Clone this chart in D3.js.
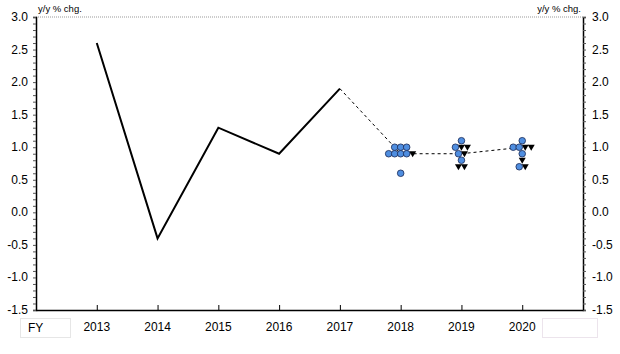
<!DOCTYPE html>
<html>
<head>
<meta charset="utf-8">
<script src="https://cdn.jsdelivr.net/npm/d3@7"></script>
<style>
  body { margin: 0; background: #fff; }
  text { font-family: Arial, "Liberation Sans", sans-serif; }
</style>
</head>
<body>
<div id="chart"></div>
<script>
let width = 620
let height = 354
let margin = { left: 36, right: 37, top: 17, bottom: 44 }

// actual FY growth
let actualYears = [2013, 2014, 2015, 2016, 2017]
let actualValues = [2.6, -0.4, 1.3, 0.9, 1.9]

// median forecast path (dashed)
let medianYears = [2017, 2018, 2019, 2020]
let medianValues = [1.9, 0.9, 0.9, 1.0]

// individual forecasts, circles and triangles
let circleYears = [2018, 2018, 2018, 2018, 2018, 2018, 2018, 2018,
  2019, 2019, 2019, 2019,
  2020, 2020, 2020, 2020, 2020]
let circleValues = [1.0, 1.0, 1.0, 0.9, 0.9, 0.9, 0.9, 0.6,
  1.1, 1.0, 0.9, 0.8,
  1.1, 1.0, 1.0, 0.9, 0.7]
let triYears = [2018, 2019, 2019, 2019, 2019, 2019, 2020, 2020, 2020, 2020]
let triValues = [0.9, 1.0, 1.0, 0.9, 0.7, 0.7, 1.0, 1.0, 0.8, 0.7]

let xTicks = [2013, 2014, 2015, 2016, 2017, 2018, 2019, 2020]
let yTicks = [-1.5, -1.0, -0.5, 0.0, 0.5, 1.0, 1.5, 2.0, 2.5, 3.0]

let svg = d3.select("#chart").append("svg")
  .attr("width", width)
  .attr("height", height)

let x = d3.scaleLinear([2012, 2021], [margin.left, width - margin.right])
let y = d3.scaleLinear([-1.5, 3.0], [height - margin.bottom, margin.top])

// top border (dotted gray)
svg.append("line")
  .attr("x1", x(2012)).attr("x2", x(2021))
  .attr("y1", y(3)).attr("y2", y(3))
  .attr("stroke", "#999").attr("stroke-dasharray", "1,1")

// y axes with minor ticks
let minor = d3.range(-15, 31).map(d => d / 10)
let fmt = d => d3.format(".1f")(d).replace("−", "-")

let leftAxis = svg.append("g").attr("transform", `translate(${x(2012)},0)`)
leftAxis.call(d3.axisLeft(y).tickValues(minor).tickSize(3).tickFormat(""))
leftAxis.selectAll("line").attr("stroke", "#555")
leftAxis.select(".domain").attr("stroke", "#000").attr("stroke-width", 1.5)
leftAxis.selectAll(".lab").data(yTicks).join("text")
  .attr("x", -8).attr("y", d => y(d) + 4)
  .attr("text-anchor", "end").attr("font-size", 12).attr("fill", "#000")
  .text(d => fmt(d))

let rightAxis = svg.append("g").attr("transform", `translate(${x(2021)},0)`)
rightAxis.call(d3.axisRight(y).tickValues(minor).tickSize(3).tickFormat(""))
rightAxis.selectAll("line").attr("stroke", "#555")
rightAxis.select(".domain").attr("stroke", "#000").attr("stroke-width", 1.5)
rightAxis.selectAll(".lab").data(yTicks).join("text")
  .attr("x", 9).attr("y", d => y(d) + 4)
  .attr("text-anchor", "start").attr("font-size", 12).attr("fill", "#000")
  .text(d => fmt(d))

// bottom axis
let bottomAxis = svg.append("g").attr("transform", `translate(0,${y(-1.5)})`)
bottomAxis.call(d3.axisTop(x).tickValues(xTicks).tickSize(5).tickFormat("").tickSizeOuter(0))
bottomAxis.select(".domain").attr("stroke", "#000").attr("stroke-width", 1.5)
bottomAxis.selectAll("line").attr("stroke", "#000")
svg.selectAll(".xlab").data(xTicks).join("text")
  .attr("x", d => x(d)).attr("y", y(-1.5) + 21)
  .attr("text-anchor", "middle").attr("font-size", 12).attr("fill", "#000")
  .text(d => d)

// unit labels
svg.append("text").attr("x", 38).attr("y", 12).attr("font-size", 9.5).text("y/y % chg.")
svg.append("text").attr("x", 581).attr("y", 12).attr("font-size", 9.5)
  .attr("text-anchor", "end").text("y/y % chg.")

// FY box and empty box
svg.append("rect").attr("x", 20.5).attr("y", 318.5).attr("width", 50).attr("height", 19)
  .attr("fill", "none").attr("stroke", "#ccc").attr("stroke-dasharray", "1,1")
svg.append("text").attr("x", 28).attr("y", 332).attr("font-size", 12).text("FY")
svg.append("rect").attr("x", 542.5).attr("y", 318.5).attr("width", 55).attr("height", 19)
  .attr("fill", "none").attr("stroke", "#d8c8d8").attr("stroke-dasharray", "1,1")

// actual line
svg.append("path")
  .attr("d", d3.line()(actualYears.map((d, i) => [x(d), y(actualValues[i])])))
  .attr("fill", "none").attr("stroke", "#000").attr("stroke-width", 2)

// median dashed line
svg.append("path")
  .attr("d", d3.line()(medianYears.map((d, i) => [x(d), y(medianValues[i])])))
  .attr("fill", "none").attr("stroke", "#000").attr("stroke-width", 1)
  .attr("stroke-dasharray", "3,3")

// lay out markers side by side per year/value row
let marks = []
circleYears.forEach((yr, i) => marks.push({ year: yr, value: circleValues[i], kind: "c" }))
triYears.forEach((yr, i) => marks.push({ year: yr, value: triValues[i], kind: "t" }))
let rows = d3.group(marks, d => d.year + "_" + d.value)
let step = 6
rows.forEach(items => {
  items.forEach((m, i) => {
    m.px = x(m.year) + (i - (items.length - 1) / 2) * step
    m.py = y(m.value)
  })
})

svg.selectAll(".tri").data(marks.filter(d => d.kind == "t")).join("path")
  .attr("class", "tri")
  .attr("transform", d => `translate(${d.px},${d.py})`)
  .attr("d", "M-3.5,-2.5L3.5,-2.5L0,3.5Z")
  .attr("fill", "#000")

svg.selectAll(".dot").data(marks.filter(d => d.kind == "c")).join("circle")
  .attr("class", "dot")
  .attr("cx", d => d.px).attr("cy", d => d.py).attr("r", 3.3)
  .attr("fill", "#4f8ee0").attr("stroke", "#1a2a55").attr("stroke-width", 0.8)
</script>
</body>
</html>
